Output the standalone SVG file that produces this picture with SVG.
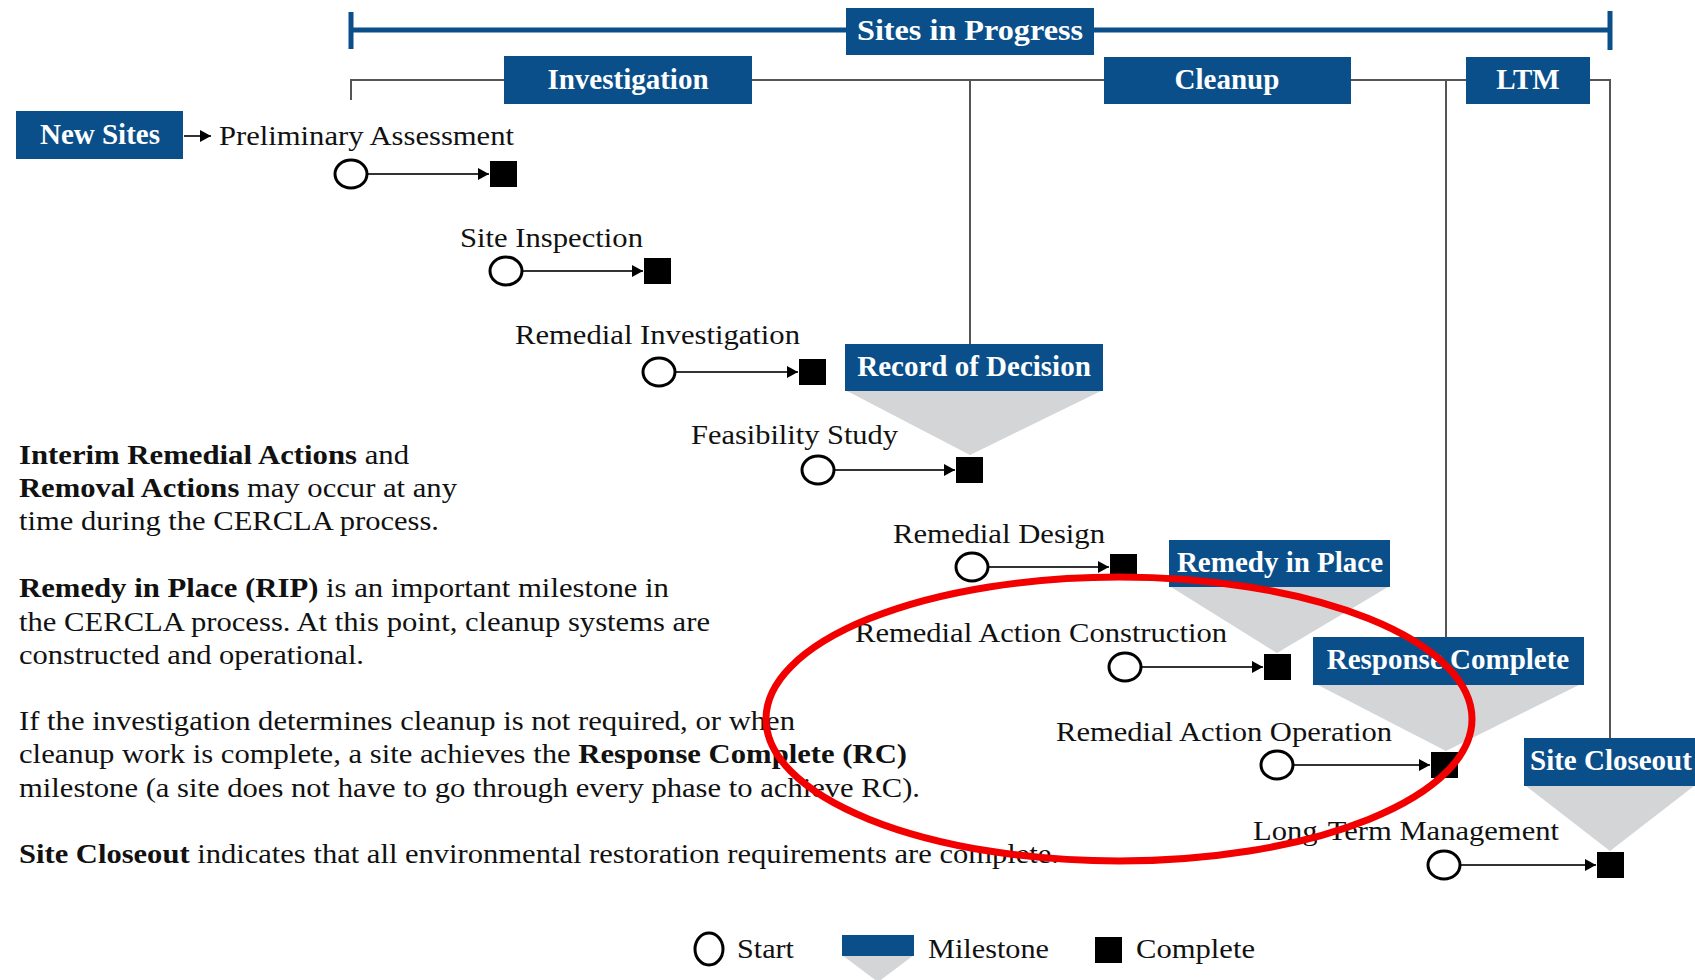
<svg xmlns="http://www.w3.org/2000/svg" width="1695" height="980" viewBox="0 0 1695 980">
<style>
.box{fill:#0b4f8a}
.bt{font-family:"Liberation Serif","Times New Roman",serif;font-weight:bold;font-size:29px;fill:#fff;text-anchor:middle}
.lbl{font-family:"Liberation Serif","Times New Roman",serif;font-size:27px;fill:#111}
.body{font-family:"Liberation Serif","Times New Roman",serif;font-size:27px;fill:#111}
.b{font-weight:bold}
.tri{fill:#d4d5d7}
.st{fill:#fff;stroke:#000;stroke-width:3}
.sq{fill:#000}
.ar{stroke:#333;stroke-width:2;fill:none;marker-end:url(#ah)}
.ph{stroke:#555;stroke-width:2;fill:none}
.bar{stroke:#0b4f8a;stroke-width:5;fill:none}
</style>
<defs>
<marker id="ah" markerUnits="userSpaceOnUse" markerWidth="11" markerHeight="12" refX="11" refY="6" orient="auto">
<path d="M0,0 L11,6 L0,12 z" fill="#000"/>
</marker>
</defs>
<rect width="1695" height="980" fill="#fff"/>

<g id="connectors">
<line class="bar" x1="351" y1="30" x2="1610" y2="30"/>
<line class="bar" x1="351" y1="12" x2="351" y2="49"/>
<line class="bar" x1="1610" y1="11" x2="1610" y2="50"/>
<polyline class="ph" points="351,100 351,80 1610,80 1610,738"/>
<line class="ph" x1="970" y1="80" x2="970" y2="344"/>
<line class="ph" x1="1446" y1="80" x2="1446" y2="637"/>
<line class="ar" x1="184" y1="136" x2="211" y2="136"/>
<line class="ar" x1="368" y1="174" x2="489" y2="174"/>
<line class="ar" x1="523" y1="271" x2="643" y2="271"/>
<line class="ar" x1="676" y1="372" x2="798" y2="372"/>
<line class="ar" x1="835" y1="470" x2="955" y2="470"/>
<line class="ar" x1="989" y1="567" x2="1109" y2="567"/>
<line class="ar" x1="1142" y1="667" x2="1263" y2="667"/>
<line class="ar" x1="1294" y1="765" x2="1430" y2="765"/>
<line class="ar" x1="1461" y1="865" x2="1596" y2="865"/>
</g>

<g id="sites-in-progress">
<rect class="box" x="846" y="8" width="248" height="47"/>
<text class="bt" x="970" y="40" textLength="226" lengthAdjust="spacingAndGlyphs">Sites in Progress</text>
</g>
<g id="investigation">
<rect class="box" x="504" y="56" width="248" height="48"/>
<text class="bt" x="628" y="89">Investigation</text>
</g>
<g id="cleanup">
<rect class="box" x="1104" y="57" width="247" height="47"/>
<text class="bt" x="1227" y="89">Cleanup</text>
</g>
<g id="ltm">
<rect class="box" x="1466" y="57" width="124" height="47"/>
<text class="bt" x="1528" y="89">LTM</text>
</g>
<g id="new-sites">
<rect class="box" x="16" y="111" width="167" height="48"/>
<text class="bt" x="100" y="144">New Sites</text>
</g>

<g id="record-of-decision">
<polygon class="tri" points="847,391 1101,391 970,455"/>
<rect class="box" x="845" y="344" width="258" height="47"/>
<text class="bt" x="974" y="376">Record of Decision</text>
</g>
<g id="remedy-in-place">
<polygon class="tri" points="1171,587 1388,587 1277,653"/>
<rect class="box" x="1169" y="540" width="221" height="47"/>
<text class="bt" x="1280" y="572">Remedy in Place</text>
</g>
<g id="response-complete">
<polygon class="tri" points="1318,685 1579,685 1446,751"/>
<rect class="box" x="1313" y="637" width="271" height="48"/>
<text class="bt" x="1448" y="669">Response Complete</text>
</g>
<g id="site-closeout">
<polygon class="tri" points="1526,786 1694,786 1610,851"/>
<rect class="box" x="1524" y="738" width="180" height="48"/>
<text class="bt" x="1530" y="770" style="text-anchor:start">Site Closeout</text>
</g>

<g id="preliminary-assessment">
<text class="lbl" x="219" y="145" textLength="295" lengthAdjust="spacingAndGlyphs">Preliminary Assessment</text>
<ellipse class="st" cx="351" cy="174" rx="16" ry="14"/>
<rect class="sq" x="490" y="161" width="27" height="26"/>
</g>
<g id="site-inspection">
<text class="lbl" x="460" y="247" textLength="183" lengthAdjust="spacingAndGlyphs">Site Inspection</text>
<ellipse class="st" cx="506" cy="271" rx="16" ry="14"/>
<rect class="sq" x="644" y="258" width="27" height="26"/>
</g>
<g id="remedial-investigation">
<text class="lbl" x="515" y="344" textLength="285" lengthAdjust="spacingAndGlyphs">Remedial Investigation</text>
<ellipse class="st" cx="659" cy="372" rx="16" ry="14"/>
<rect class="sq" x="799" y="359" width="27" height="26"/>
</g>
<g id="feasibility-study">
<text class="lbl" x="691" y="444" textLength="207" lengthAdjust="spacingAndGlyphs">Feasibility Study</text>
<ellipse class="st" cx="818" cy="470" rx="16" ry="14"/>
<rect class="sq" x="956" y="457" width="27" height="26"/>
</g>
<g id="remedial-design">
<text class="lbl" x="893" y="543" textLength="212" lengthAdjust="spacingAndGlyphs">Remedial Design</text>
<ellipse class="st" cx="972" cy="567" rx="16" ry="14"/>
<rect class="sq" x="1110" y="554" width="27" height="26"/>
</g>
<g id="remedial-action-construction">
<text class="lbl" x="855" y="642" textLength="372" lengthAdjust="spacingAndGlyphs">Remedial Action Construction</text>
<ellipse class="st" cx="1125" cy="667" rx="16" ry="14"/>
<rect class="sq" x="1264" y="654" width="27" height="26"/>
</g>
<g id="remedial-action-operation">
<text class="lbl" x="1056" y="741" textLength="336" lengthAdjust="spacingAndGlyphs">Remedial Action Operation</text>
<ellipse class="st" cx="1277" cy="765" rx="16" ry="14"/>
<rect class="sq" x="1431" y="752" width="27" height="26"/>
</g>
<g id="long-term-management">
<text class="lbl" x="1253" y="840" textLength="306" lengthAdjust="spacingAndGlyphs">Long-Term Management</text>
<ellipse class="st" cx="1444" cy="865" rx="16" ry="14"/>
<rect class="sq" x="1597" y="852" width="27" height="26"/>
</g>

<g id="notes" class="body">
<text x="19" y="464" textLength="390" lengthAdjust="spacingAndGlyphs"><tspan class="b">Interim Remedial Actions</tspan> and</text>
<text x="19" y="497" textLength="438" lengthAdjust="spacingAndGlyphs"><tspan class="b">Removal Actions</tspan> may occur at any</text>
<text x="19" y="530" textLength="420" lengthAdjust="spacingAndGlyphs">time during the CERCLA process.</text>
<text x="19" y="597" textLength="650" lengthAdjust="spacingAndGlyphs"><tspan class="b">Remedy in Place (RIP)</tspan> is an important milestone in</text>
<text x="19" y="631" textLength="691" lengthAdjust="spacingAndGlyphs">the CERCLA process. At this point, cleanup systems are</text>
<text x="19" y="664" textLength="345" lengthAdjust="spacingAndGlyphs">constructed and operational.</text>
<text x="19" y="730" textLength="776" lengthAdjust="spacingAndGlyphs">If the investigation determines cleanup is not required, or when</text>
<text x="19" y="763" textLength="888" lengthAdjust="spacingAndGlyphs">cleanup work is complete, a site achieves the <tspan class="b">Response Complete (RC)</tspan></text>
<text x="19" y="797" textLength="901" lengthAdjust="spacingAndGlyphs">milestone (a site does not have to go through every phase to achieve RC).</text>
<text x="19" y="863" textLength="1040" lengthAdjust="spacingAndGlyphs"><tspan class="b">Site Closeout</tspan> indicates that all environmental restoration requirements are complete.</text>
</g>

<g id="legend">
<ellipse class="st" cx="709" cy="949" rx="14" ry="16"/>
<text class="lbl" x="737" y="958" textLength="57" lengthAdjust="spacingAndGlyphs">Start</text>
<polygon class="tri" points="842,955 914,955 878,982"/>
<rect class="box" x="842" y="935" width="72" height="21"/>
<text class="lbl" x="928" y="958" textLength="121" lengthAdjust="spacingAndGlyphs">Milestone</text>
<rect class="sq" x="1095" y="937" width="27" height="26"/>
<text class="lbl" x="1136" y="958" textLength="119" lengthAdjust="spacingAndGlyphs">Complete</text>
</g>

<g id="highlight">
<ellipse cx="1119" cy="719" rx="353" ry="142" fill="none" stroke="#f20000" stroke-width="7"/>
</g>
</svg>
